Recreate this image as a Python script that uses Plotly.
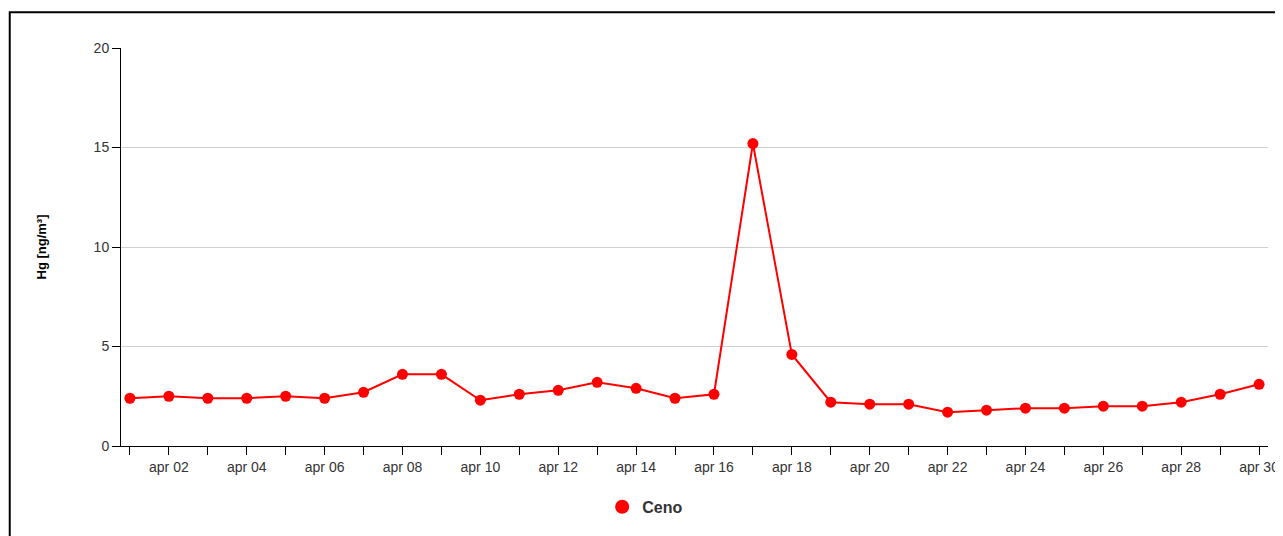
import plotly.graph_objects as go

days = list(range(1, 31))
dates = ["2024-04-%02d" % d for d in days]
hg = [2.4, 2.5, 2.4, 2.4, 2.5, 2.4, 2.7, 3.6, 3.6, 2.3, 2.6, 2.8, 3.2, 2.9, 2.4,
      2.6, 15.2, 4.6, 2.2, 2.1, 2.1, 1.7, 1.8, 1.9, 1.9, 2.0, 2.0, 2.2, 2.6, 3.1]
tick_labels = ["apr %02d" % d if d % 2 == 0 else "" for d in days]
series_name = "Ceno"

fig = go.Figure()
fig.add_trace(go.Scatter(
    x=dates, y=hg, name=series_name, mode="lines+markers",
    line=dict(color="#ff0000", width=2),
    marker=dict(color="#ff0000", size=11),
    showlegend=False,
))
# legend entry shows only the dot
fig.add_trace(go.Scatter(
    x=[None], y=[None], name="<b>" + series_name + "</b>", mode="markers",
    marker=dict(color="#ff0000", size=14),
))

fig.update_layout(
    width=1283, height=536,
    margin=dict(l=113, r=15, t=40, b=98),
    plot_bgcolor="white", paper_bgcolor="white",
    font=dict(family="Liberation Sans, Arial", size=13, color="#333"),
    showlegend=True,
    legend=dict(orientation="h", x=0.457, xanchor="center", y=-0.11, yanchor="top",
                font=dict(size=16, color="#333", family="Liberation Sans, Arial")),
    shapes=[dict(type="rect", xref="paper", yref="paper",
                 x0=-0.097, x1=1.012, y0=-0.3, y1=1.09,
                 line=dict(color="black", width=2))],
)
fig.update_xaxes(
    type="date", range=["2024-03-31 18:30", "2024-04-30 05:30"],
    tickvals=dates, ticktext=tick_labels, ticks="outside", ticklen=8,
    tickcolor="black", showline=True, linecolor="black", showgrid=False,
    tickfont=dict(size=14, color="#333"),
)
fig.update_yaxes(
    range=[0, 20], tickvals=[0, 5, 10, 15, 20], ticks="outside", ticklen=8,
    tickcolor="black", showline=True, linecolor="black",
    showgrid=True, gridcolor="#d0d0d0", zeroline=False,
    title=dict(text="<b>Hg [ng/m³]</b>", font=dict(size=13, color="black"), standoff=44),
    tickfont=dict(size=14, color="#333"),
)

fig.write_html("out.html")
